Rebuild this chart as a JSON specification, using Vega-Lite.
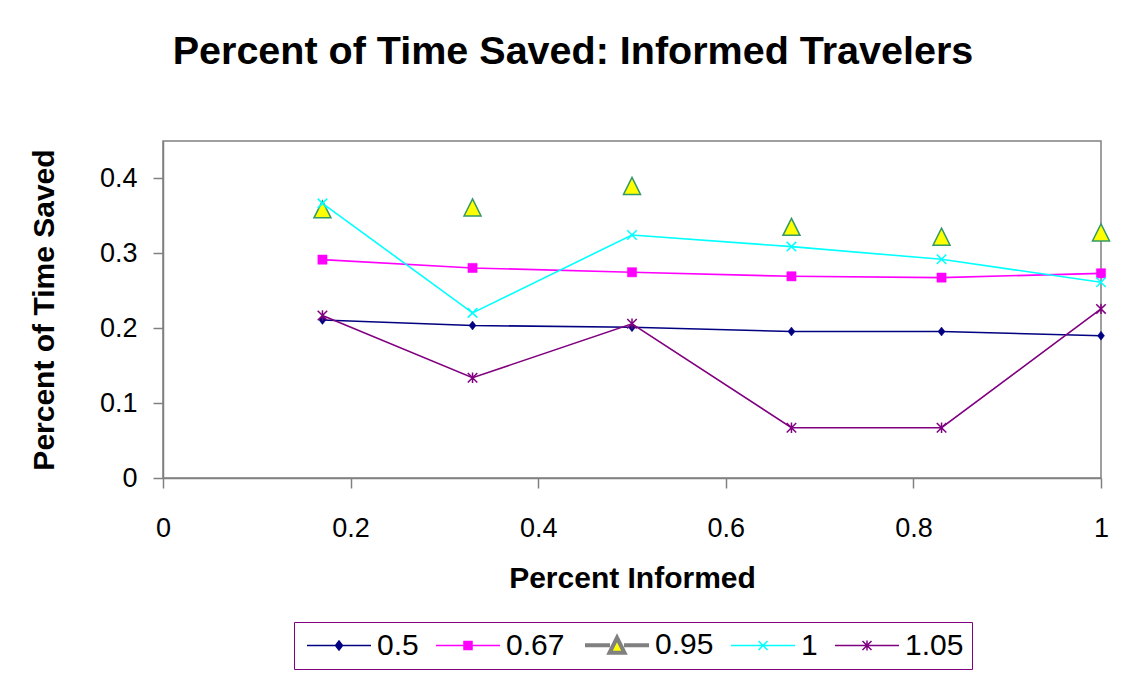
{
  "$schema": "https://vega.github.io/schema/vega-lite/v6.json",
  "autosize": {"type": "none"},
  "width": 938,
  "height": 337,
  "padding": {"left": 163, "top": 141, "right": 34, "bottom": 196},
  "background": "white",
  "config": {
    "font": "Liberation Sans",
    "view": {"stroke": "#808080", "strokeWidth": 1.5},
    "axis": {
      "grid": false,
      "domainColor": "#808080",
      "domainWidth": 1.5,
      "tickColor": "#808080",
      "tickWidth": 1.5,
      "tickSize": 10,
      "labelFont": "Liberation Sans",
      "labelFontSize": 27,
      "labelColor": "black",
      "titleFont": "Liberation Sans",
      "titleFontSize": 30,
      "titleFontWeight": "bold",
      "titleColor": "black"
    }
  },
  "title": {
    "text": "Percent of Time Saved: Informed Travelers",
    "font": "Liberation Sans",
    "fontSize": 39.5,
    "fontWeight": "bold",
    "color": "black",
    "anchor": "middle",
    "frame": "group",
    "dx": -59,
    "baseline": "alphabetic",
    "offset": 38
  },
  "data": {
    "values": [
      {"series": "0.5", "informed": 0.17, "saved": 0.211},
      {"series": "0.5", "informed": 0.33, "saved": 0.2036},
      {"series": "0.5", "informed": 0.5, "saved": 0.2013},
      {"series": "0.5", "informed": 0.67, "saved": 0.1956},
      {"series": "0.5", "informed": 0.83, "saved": 0.1956},
      {"series": "0.5", "informed": 1.0, "saved": 0.19},
      {"series": "0.67", "informed": 0.17, "saved": 0.2916},
      {"series": "0.67", "informed": 0.33, "saved": 0.2805},
      {"series": "0.67", "informed": 0.5, "saved": 0.2747},
      {"series": "0.67", "informed": 0.67, "saved": 0.2693},
      {"series": "0.67", "informed": 0.83, "saved": 0.2676},
      {"series": "0.67", "informed": 1.0, "saved": 0.2733},
      {"series": "0.95", "informed": 0.17, "saved": 0.3587},
      {"series": "0.95", "informed": 0.33, "saved": 0.3613},
      {"series": "0.95", "informed": 0.5, "saved": 0.39},
      {"series": "0.95", "informed": 0.67, "saved": 0.3354},
      {"series": "0.95", "informed": 0.83, "saved": 0.3223},
      {"series": "0.95", "informed": 1.0, "saved": 0.3279},
      {"series": "1", "informed": 0.17, "saved": 0.3667},
      {"series": "1", "informed": 0.33, "saved": 0.2205},
      {"series": "1", "informed": 0.5, "saved": 0.3245},
      {"series": "1", "informed": 0.67, "saved": 0.309},
      {"series": "1", "informed": 0.83, "saved": 0.292},
      {"series": "1", "informed": 1.0, "saved": 0.2613},
      {"series": "1.05", "informed": 0.17, "saved": 0.217},
      {"series": "1.05", "informed": 0.33, "saved": 0.1339},
      {"series": "1.05", "informed": 0.5, "saved": 0.2059},
      {"series": "1.05", "informed": 0.67, "saved": 0.0672},
      {"series": "1.05", "informed": 0.83, "saved": 0.0672},
      {"series": "1.05", "informed": 1.0, "saved": 0.2258}
    ]
  },
  "encoding": {
    "x": {
      "field": "informed",
      "type": "quantitative",
      "scale": {"domain": [0, 1], "nice": false, "zero": false},
      "axis": {
        "title": "Percent Informed",
        "values": [0, 0.2, 0.4, 0.6, 0.8, 1],
        "format": "~g",
        "labelPadding": 27,
        "titlePadding": 22,
        "labelFlush": false
      }
    },
    "y": {
      "field": "saved",
      "type": "quantitative",
      "scale": {"domain": [0, 0.45], "nice": false},
      "axis": {
        "title": "Percent of Time Saved",
        "values": [0, 0.1, 0.2, 0.3, 0.4],
        "format": "~g",
        "labelPadding": 16,
        "titlePadding": 40,
        "labelFlush": false
      }
    }
  },
  "layer": [
    {
      "transform": [{"filter": "datum.series != '0.95'"}],
      "mark": {"type": "line", "strokeWidth": 1.6},
      "encoding": {
        "color": {
          "field": "series",
          "type": "nominal",
          "scale": {
            "domain": ["0.5", "0.67", "0.95", "1", "1.05"],
            "range": ["#000080", "#FF00FF", "#808080", "#00FFFF", "#800080"]
          },
          "legend": {
            "title": null,
            "orient": "none",
            "legendX": 131,
            "legendY": 481,
            "direction": "horizontal",
            "padding": 8,
            "strokeColor": "#800080",
            "fillColor": "white",
            "labelFont": "Liberation Sans",
            "labelFontSize": 30,
            "labelColor": "black",
            "labelOffset": 45,
            "columnPadding": 12,
            "symbolSize": 400,
            "symbolStrokeWidth": 1.5,
            "encode": {
              "symbols": {
                "update": {
                  "shape": {"signal": "datum.value == '0.5' ? 'M-1,0L5.4,0M2.2,-0.45L2.55,0L2.2,0.45L1.85,0Z' : datum.value == '0.67' ? 'M-1,0L5.4,0M1.8,-0.4L2.6,-0.4L2.6,0.4L1.8,0.4Z' : datum.value == '0.95' ? 'M-1,0L1.5,0M2.9,0L5.4,0M2.2,-0.75L2.95,0.75L1.45,0.75Z' : datum.value == '1' ? 'M-1,0L5.4,0M1.75,-0.45L2.65,0.45M1.75,0.45L2.65,-0.45' : 'M-1,0L5.4,0M1.75,-0.45L2.65,0.45M1.75,0.45L2.65,-0.45M2.2,-0.5L2.2,0.5'"},
                  "fill": {"signal": "datum.value == '0.95' ? '#FFFF00' : datum.value == '0.5' ? '#000080' : datum.value == '0.67' ? '#FF00FF' : 'transparent'"},
                  "strokeWidth": {"signal": "datum.value == '0.95' ? 4 : 1.5"},
                  "opacity": {"value": 1}
                }
              }
            }
          }
        }
      }
    },
    {
      "transform": [{"filter": "datum.series == '0.5'"}],
      "mark": {"type": "point", "shape": "M0,-1.15L0.9,0L0,1.15L-0.9,0Z", "size": 60, "filled": true, "fill": "#000080", "stroke": "#000080", "strokeWidth": 0.5, "opacity": 1}
    },
    {
      "transform": [{"filter": "datum.series == '0.67'"}],
      "mark": {"type": "point", "shape": "square", "size": 85, "filled": true, "fill": "#FF00FF", "stroke": "#FF00FF", "strokeWidth": 0.5, "opacity": 1}
    },
    {
      "transform": [{"filter": "datum.series == '0.95'"}],
      "mark": {"type": "point", "shape": "M0,-1L1,1L-1,1Z", "size": 289, "filled": true, "fill": "#FFFF00", "stroke": "#339966", "strokeWidth": 1.5, "opacity": 1}
    },
    {
      "transform": [{"filter": "datum.series == '1'"}],
      "mark": {"type": "point", "shape": "M-1,-1L1,1M-1,1L1,-1", "size": 90, "filled": false, "stroke": "#00FFFF", "strokeWidth": 1.5, "opacity": 1}
    },
    {
      "transform": [{"filter": "datum.series == '1.05'"}],
      "mark": {"type": "point", "shape": "M-1,-1L1,1M-1,1L1,-1M0,-1.1L0,1.1", "size": 90, "filled": false, "stroke": "#800080", "strokeWidth": 1.5, "opacity": 1}
    }
  ]
}
